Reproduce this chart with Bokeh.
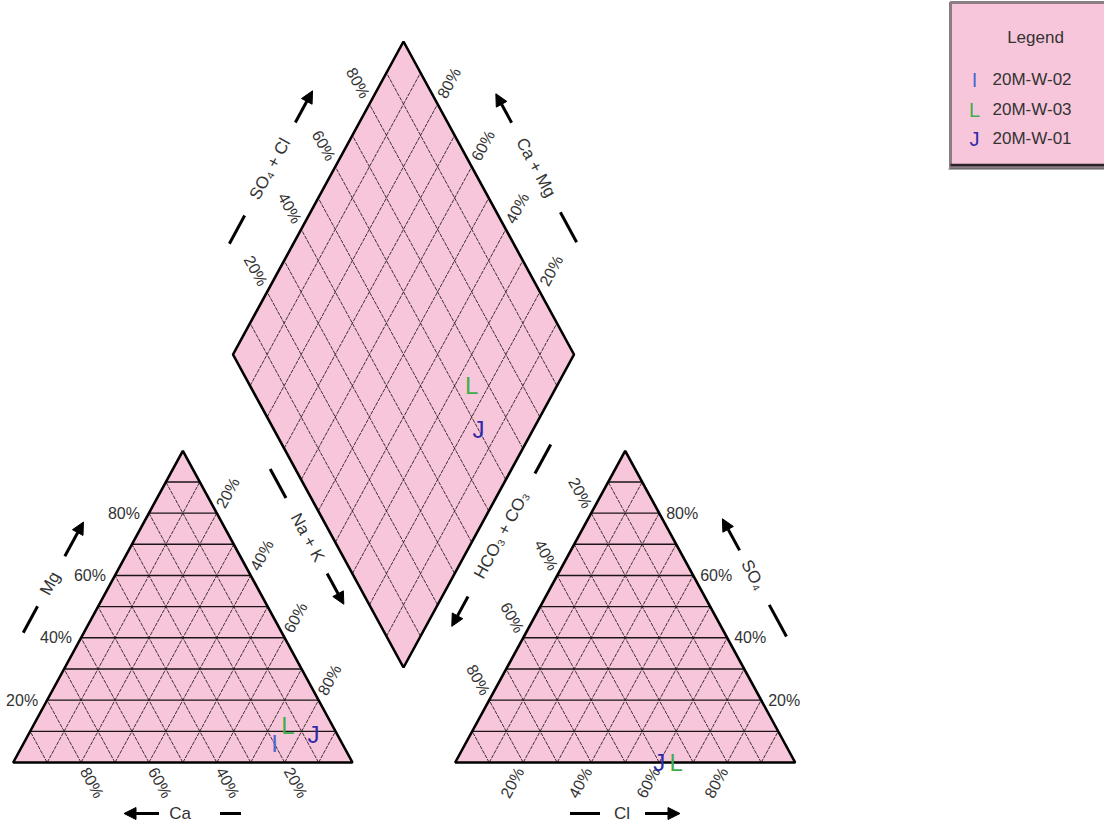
import math
from bokeh.plotting import figure
from bokeh.models import Range1d, Arrow, NormalHead
from bokeh.core.properties import value
from bokeh.embed import file_html
from bokeh.resources import INLINE

# ---------------- data ----------------
samples = ["20M-W-02", "20M-W-03", "20M-W-01"]
symbols = ["I", "L", "J"]
sym_colors = ["#4a68d0", "#3fae4a", "#2f2aa8"]
ca = [20, 13, 7]
mg = [6, 12, 9]
na_k = [74, 75, 84]
hco3 = [None, 35, 40]
so4 = [None, 0, 0]
cl = [None, 65, 60]
tick_pct = [20, 40, 60, 80]
tick_labels = ["20%", "40%", "60%", "80%"]

# ---------------- layout ----------------
W, H = 1104, 824
PINK = "#f8c6db"
FONT = value("Liberation Sans")
TXT = "#333333"

p = figure(width=W, height=H, x_range=Range1d(8, 8 + W), y_range=Range1d(8, 8 + H),
           output_backend="svg", toolbar_location=None, min_border=0,
           x_axis_location=None, y_axis_location=None)
p.xgrid.visible = False
p.ygrid.visible = False
p.outline_line_color = None
p.background_fill_color = "white"


def D(X, Y):
    """page pixel -> data coords"""
    return X, 840 - Y


LX0, LW = 20.7, 339.3
RX0, RW = 462.7, 340.0
BASE, TH = 770.0, 311.7
DBX, DBY, DHW, DHH = 411.0, 675.0, 170.5, 313.0
ANG = math.degrees(math.atan2(TH, LW / 2))
CA_, SA_ = math.cos(math.radians(ANG)), math.sin(math.radians(ANG))


def tri_pt(x0, w, top, right):
    # top = fraction of apex component, right = fraction of bottom-right component
    return x0 + (right + top / 2) * w, BASE - top * TH


def dia_pt(camg, so4cl):
    return DBX + (so4cl - camg) * DHW, DBY - (camg + so4cl) * DHH


def add_poly(pts, grid_h, grid_d):
    xs = [D(*q)[0] for q in pts]
    ys = [D(*q)[1] for q in pts]
    p.patch(xs, ys, fill_color=PINK, line_color=None)
    if grid_d:
        p.multi_line([[D(*a)[0], D(*b)[0]] for a, b in grid_d],
                     [[D(*a)[1], D(*b)[1]] for a, b in grid_d],
                     line_color="#2a1f24", line_width=0.9, line_dash="4 1")
    if grid_h:
        p.multi_line([[D(*a)[0], D(*b)[0]] for a, b in grid_h],
                     [[D(*a)[1], D(*b)[1]] for a, b in grid_h],
                     line_color="#1a1416", line_width=1.4)
    p.patch(xs, ys, fill_color=None, line_color="black", line_width=2.6)


fr = [k / 10 for k in range(1, 10)]

# ternary triangles
for x0, w in ((LX0, LW), (RX0, RW)):
    pts = [tri_pt(x0, w, 0, 0), tri_pt(x0, w, 0, 1), tri_pt(x0, w, 1, 0)]
    gh = [(tri_pt(x0, w, f, 0), tri_pt(x0, w, f, 1 - f)) for f in fr]
    gd = []
    for f in fr:
        gd.append((tri_pt(x0, w, 0, 1 - f), tri_pt(x0, w, 1 - f, 0)))
        gd.append((tri_pt(x0, w, 0, f), tri_pt(x0, w, 1 - f, f)))
    add_poly(pts, gh, gd)

# diamond
dpts = [dia_pt(0, 0), dia_pt(0, 1), dia_pt(1, 1), dia_pt(1, 0)]
dgd = []
for f in fr:
    dgd.append((dia_pt(f, 0), dia_pt(f, 1)))
    dgd.append((dia_pt(0, f), dia_pt(1, f)))
add_poly(dpts, None, dgd)

# ---------------- tick labels ----------------
lab = {"x": [], "y": [], "t": [], "a": [], "al": []}


def put(X, Y, t, ang, al):
    x, y = D(X, Y)
    lab["x"].append(x); lab["y"].append(y); lab["t"].append(t)
    lab["a"].append(math.radians(ang)); lab["al"].append(al)


d = 7
dd = 8
for t, s in zip(tick_pct, tick_labels):
    f = t / 100
    # Mg (left edge of cation triangle)
    ex, ey = tri_pt(LX0, LW, f, 0)
    put(ex - 9, ey, s, 0, "right")
    # Na + K (right edge)
    ex, ey = tri_pt(LX0, LW, 1 - f, f)
    put(ex + d * CA_, ey - d * SA_, s, ANG, "left")
    # Ca (bottom)
    ex, ey = tri_pt(LX0, LW, 0, 1 - f)
    put(ex + d * CA_, ey + d * SA_, s, -ANG, "left")
    # HCO3 (left edge of anion triangle)
    ex, ey = tri_pt(RX0, RW, 1 - f, 0)
    put(ex - d * CA_, ey - d * SA_, s, -ANG, "right")
    # SO4 (right edge)
    ex, ey = tri_pt(RX0, RW, f, 1 - f)
    put(ex + 7, ey, s, 0, "left")
    # Cl (bottom)
    ex, ey = tri_pt(RX0, RW, 0, f)
    put(ex - d * CA_, ey + d * SA_, s, ANG, "right")
    # SO4 + Cl (diamond upper-left)
    ex, ey = dia_pt(1, f)
    put(ex - dd * CA_, ey - dd * SA_, s, -ANG, "right")
    # Ca + Mg (diamond upper-right)
    ex, ey = dia_pt(f, 1)
    put(ex + dd * CA_, ey - dd * SA_, s, ANG, "left")

p.text(x="x", y="y", text="t", angle="a", text_align="al", source=lab,
       text_baseline="middle", text_font=FONT, text_font_size="16px", text_color=TXT)

# ---------------- axis titles with dash + arrow ----------------
titles = [
    # text, center, angle, dash range, arrow (tail, head)
    ("Mg", (57.5, 591), ANG, (-56, -26), (31, 70)),
    ("Ca", (187.5, 821), 0, (40, 61), (-21, -56)),
    ("Na + K", (315, 545), -ANG, (-78, -45), (41, 76)),
    ("SO\u2084", (760.5, 582.5), -ANG, (34, 70), (-28, -64)),
    ("Cl", (629.5, 821), 0, (-52, -22), (23, 58)),
    ("SO\u2084 + Cl", (277.5, 176.5), ANG, (-85, -53), (53, 89)),
    ("Ca + Mg", (543.5, 175), -ANG, (51, 85), (-51, -84)),
    ("HCO\u2083 + CO\u2083", (509, 542.5), ANG, (70, 103), (-70, -104)),
]
tt = {"x": [], "y": [], "t": [], "a": []}
seg = {"x0": [], "y0": [], "x1": [], "y1": []}
for text, (cx, cy), ang, dr, ar in titles:
    ux, uy = math.cos(math.radians(ang)), -math.sin(math.radians(ang))
    x, y = D(cx, cy)
    tt["x"].append(x); tt["y"].append(y); tt["t"].append(text); tt["a"].append(math.radians(ang))
    a0 = D(cx + ux * dr[0], cy + uy * dr[0]); a1 = D(cx + ux * dr[1], cy + uy * dr[1])
    seg["x0"].append(a0[0]); seg["y0"].append(a0[1]); seg["x1"].append(a1[0]); seg["y1"].append(a1[1])
    s0 = D(cx + ux * ar[0], cy + uy * ar[0]); s1 = D(cx + ux * ar[1], cy + uy * ar[1])
    p.add_layout(Arrow(x_start=s0[0], y_start=s0[1], x_end=s1[0], y_end=s1[1],
                       line_width=3, line_color="black",
                       end=NormalHead(size=12, fill_color="black", line_color="black")))
p.segment(x0="x0", y0="y0", x1="x1", y1="y1", source=seg, line_width=3, line_color="black")
p.text(x="x", y="y", text="t", angle="a", source=tt, text_align="center",
       text_baseline="middle", text_font=FONT, text_font_size="17px", text_color=TXT)

# ---------------- sample symbols ----------------
cx_, cy_, ct, cc = [], [], [], []
for i in range(len(samples)):
    tot = ca[i] + mg[i] + na_k[i]
    X, Y = tri_pt(LX0, LW, mg[i] / tot, na_k[i] / tot)
    x, y = D(X, Y)
    cx_.append(x); cy_.append(y); ct.append(symbols[i]); cc.append(sym_colors[i])
for i in range(len(samples)):
    if cl[i] is None:
        continue
    tot = hco3[i] + so4[i] + cl[i]
    X, Y = tri_pt(RX0, RW, so4[i] / tot, cl[i] / tot)
    x, y = D(X, Y)
    cx_.append(x); cy_.append(y); ct.append(symbols[i]); cc.append(sym_colors[i])
for i in range(len(samples)):
    if cl[i] is None:
        continue
    tc = ca[i] + mg[i] + na_k[i]
    ta = hco3[i] + so4[i] + cl[i]
    X, Y = dia_pt((ca[i] + mg[i]) / tc, (so4[i] + cl[i]) / ta)
    x, y = D(X, Y)
    cx_.append(x); cy_.append(y); ct.append(symbols[i]); cc.append(sym_colors[i])
p.text(x=cx_, y=cy_, text=ct, text_color=cc, text_align="center", text_baseline="middle",
       text_font=FONT, text_font_size="24px")

# ---------------- legend box ----------------
lx0, lx1, ly0, ly1 = 958, 1130, 10, 175
p.quad(left=D(lx0, 0)[0], right=D(lx1, 0)[0], top=D(0, ly0)[1], bottom=D(0, ly1)[1],
       fill_color=PINK, line_color="#8c7c84", line_width=3)
p.segment(x0=[D(lx0, 0)[0]], y0=[D(0, 172.5)[1]], x1=[D(lx1, 0)[0]], y1=[D(0, 172.5)[1]],
          line_color="#2a2226", line_width=2.5)
p.segment(x0=[D(lx0 - 2, 0)[0]], y0=[D(0, 176.5)[1]], x1=[D(lx1, 0)[0]], y1=[D(0, 176.5)[1]],
          line_color="#555555", line_width=1)
p.text(x=[D(1043, 0)[0]], y=[D(0, 45)[1]], text=["Legend"], text_align="center",
       text_baseline="middle", text_font=FONT, text_font_size="17px", text_color=TXT)
ley = [87, 117, 146]
p.text(x=[982] * 3, y=[D(0, v)[1] for v in ley], text=symbols, text_color=sym_colors,
       text_align="center", text_baseline="middle", text_font=FONT, text_font_size="20px")
p.text(x=[1000] * 3, y=[D(0, v)[1] for v in ley], text=samples, text_align="left",
       text_baseline="middle", text_font=FONT, text_font_size="17px", text_color=TXT)

open("out.html", "w").write(file_html(p, INLINE))
